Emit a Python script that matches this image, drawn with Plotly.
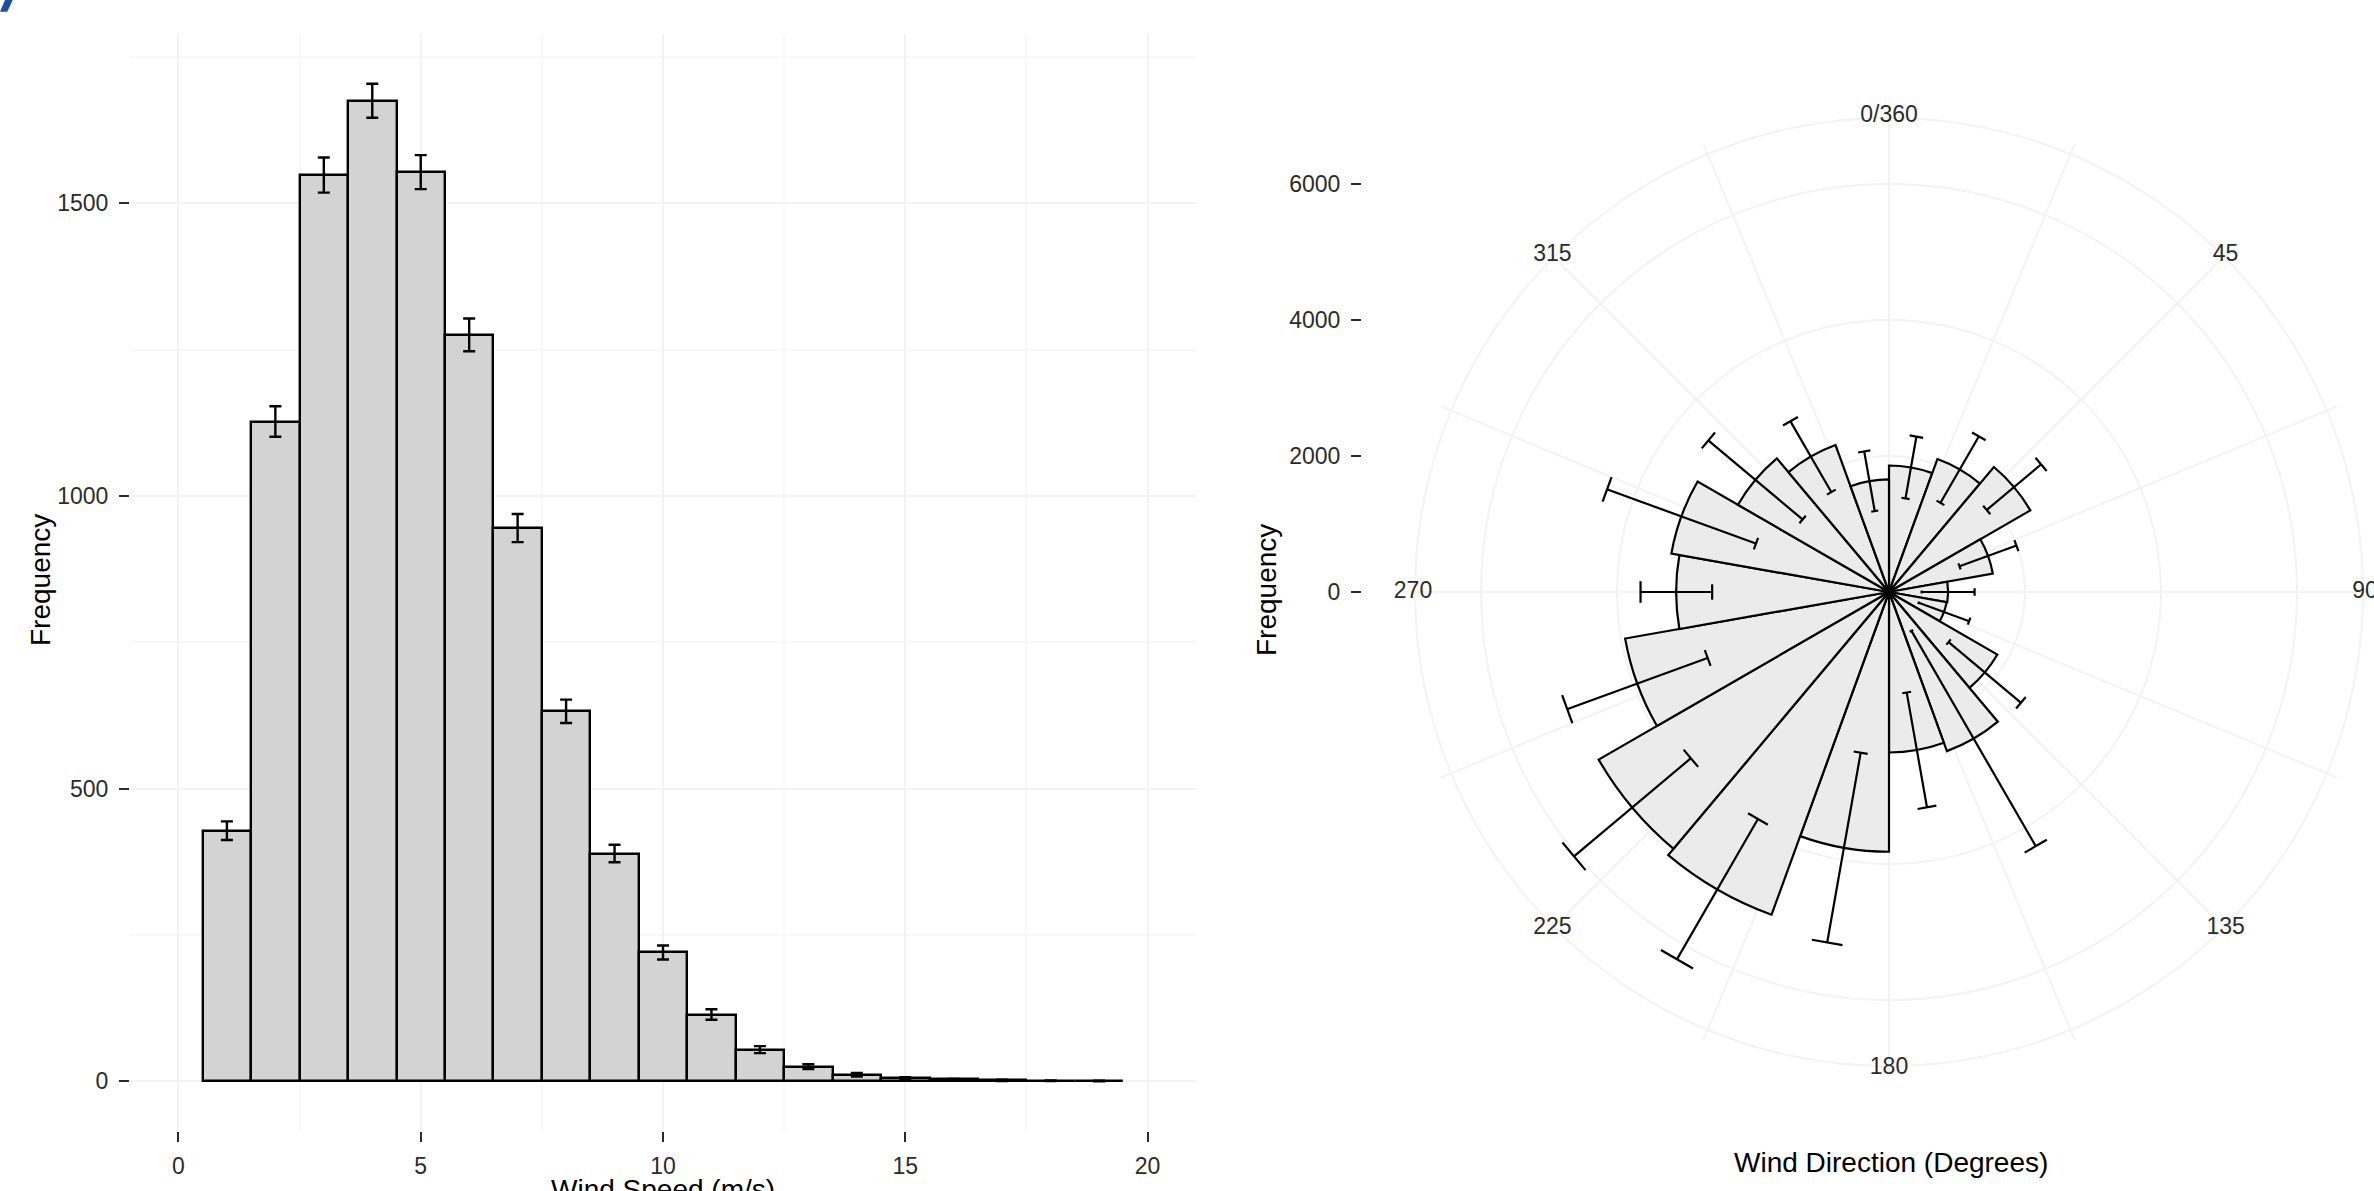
import plotly.graph_objects as go

# ---------------- data ----------------
# Left: wind speed histogram (bin centres, counts, error half-widths)
speed_bins = list(range(1, 20))
speed_freq = [428, 1127, 1548, 1675, 1553, 1275, 945, 632, 389, 220, 114, 54, 25, 11, 5, 3, 1.5, 0.8, 0.4]
speed_err = [16, 26, 30, 29, 29, 28, 24, 20, 15, 12, 9, 6, 4, 3, 2, 1, 1, 0.5, 0.5]

x_ticks = [0, 5, 10, 15, 20]
y_ticks = [0, 500, 1000, 1500]

# Right: wind direction rose (sector centres in degrees, counts, error half-widths)
dir_centers = [10, 30, 50, 70, 90, 110, 130, 150, 170, 190, 210, 230, 250, 270, 290, 310, 330, 350]
dir_freq = [1860, 2080, 2400, 1550, 870, 860, 1840, 2490, 2360, 3820, 5050, 4930, 3940, 3130, 3250, 2565, 2300, 1655]
dir_err = [462, 565, 522, 446, 390, 395, 695, 1830, 858, 1418, 1192, 1123, 1100, 527, 1166, 905, 602, 446]

r_ticks = [0, 2000, 4000, 6000]
angle_ticks = [0, 45, 90, 135, 180, 225, 270, 315]
angle_labels = ["0/360", "45", "90", "135", "180", "225", "270", "315"]

# ---------------- layout constants ----------------
W, H = 2374, 1191
FONT = "Liberation Sans, Arial, sans-serif"
TICK_COL = "#2b2b2b"
GRID = "#f3f3f3"
GRID_MINOR = "#f8f8f8"

R_MAX = 7132        # radial range of the polar panel
R_OUTER = 6970      # outer grid circle
R_LABEL = 7000      # radius of angular labels

fig = go.Figure()

# Histogram bars
fig.add_trace(go.Bar(
    x=speed_bins, y=speed_freq, width=1,
    marker=dict(color="#d3d3d3", line=dict(color="black", width=2.4)),
    error_y=dict(type="data", array=speed_err, color="black", thickness=2.4, width=6),
    xaxis="x", yaxis="y", hoverinfo="x+y",
))

# Wind rose bars
fig.add_trace(go.Barpolar(
    r=dir_freq, theta=dir_centers, width=[20] * len(dir_centers),
    marker=dict(color="#ebebeb", line=dict(color="black", width=2.2)),
    subplot="polar",
))

# Wind rose error bars (radial whisker + caps)
cap = 2.5
er_r, er_t = [], []
for c, v, e in zip(dir_centers, dir_freq, dir_err):
    lo, hi = v - e, v + e
    er_r += [lo, hi, None, lo, lo, None, hi, hi, None]
    er_t += [c, c, None, c - cap, c + cap, None, c - cap, c + cap, None]
fig.add_trace(go.Scatterpolar(
    r=er_r, theta=er_t, mode="lines",
    line=dict(color="black", width=2.2), subplot="polar", hoverinfo="skip",
))

# Outer faint circle
circ_t = [i * 2 for i in range(181)]
fig.add_trace(go.Scatterpolar(
    r=[R_OUTER] * len(circ_t), theta=circ_t, mode="lines",
    line=dict(color=GRID, width=2), subplot="polar", hoverinfo="skip",
))

# Angular labels
fig.add_trace(go.Scatterpolar(
    r=[R_LABEL] * len(angle_ticks), theta=angle_ticks, mode="text",
    text=angle_labels, textfont=dict(size=23, color=TICK_COL, family=FONT),
    textposition="middle center", subplot="polar", hoverinfo="skip", cliponaxis=False,
))

# Dummy trace for the radial "Frequency" axis drawn on the left of the rose
fig.add_trace(go.Scatter(x=[], y=[], xaxis="x2", yaxis="y2", showlegend=False))

pol_y0 = (H - 1077) / H
pol_y1 = (H - 107) / H

fig.update_layout(
    width=W, height=H,
    margin=dict(l=0, r=0, t=0, b=0),
    paper_bgcolor="white", plot_bgcolor="rgba(0,0,0,0)",
    showlegend=False,
    font=dict(family=FONT, color="black"),
    bargap=0,
    xaxis=dict(
        domain=[130 / W, 1196 / W], range=[-1, 21],
        tickvals=x_ticks, ticks="outside", ticklen=10, tickwidth=2, tickcolor=TICK_COL,
        tickfont=dict(size=23, color=TICK_COL), ticklabelstandoff=4,
        showgrid=True, gridcolor=GRID, gridwidth=2,
        minor=dict(tickvals=[2.5, 7.5, 12.5, 17.5], showgrid=True, gridcolor=GRID_MINOR, gridwidth=2),
        zeroline=False, showline=False, fixedrange=True,
    ),
    yaxis=dict(
        domain=[(H - 1131) / H, (H - 34) / H], range=[-85, 1789],
        tickvals=y_ticks, ticks="outside", ticklen=10, tickwidth=2, tickcolor=TICK_COL,
        tickfont=dict(size=23, color=TICK_COL), ticklabelstandoff=6,
        showgrid=True, gridcolor=GRID, gridwidth=2,
        minor=dict(tickvals=[250, 750, 1250, 1750], showgrid=True, gridcolor=GRID_MINOR, gridwidth=2),
        zeroline=False, showline=False, fixedrange=True,
    ),
    xaxis2=dict(domain=[1362 / W, 1372 / W], visible=False, range=[0, 1], fixedrange=True),
    yaxis2=dict(
        anchor="x2", domain=[pol_y0, pol_y1], range=[-R_MAX, R_MAX],
        tickvals=r_ticks, ticks="outside", ticklen=10, tickwidth=2, tickcolor=TICK_COL,
        tickfont=dict(size=23, color=TICK_COL), ticklabelstandoff=6,
        showgrid=False, zeroline=False, showline=False, fixedrange=True,
    ),
    polar=dict(
        domain=dict(x=[1404 / W, 1.0], y=[pol_y0, pol_y1]),
        bgcolor="white",
        angularaxis=dict(
            rotation=90, direction="clockwise",
            tickvals=[i * 22.5 for i in range(16)], showticklabels=False, ticks="",
            showgrid=True, gridcolor=GRID, gridwidth=2, showline=False,
        ),
        radialaxis=dict(
            range=[0, R_MAX], tickvals=r_ticks[1:], showticklabels=False, ticks="",
            showgrid=True, gridcolor=GRID, gridwidth=2, showline=False,
        ),
    ),
    annotations=[
        dict(text="Frequency", x=40 / W, y=(H - 580) / H, xref="paper", yref="paper",
             textangle=-90, showarrow=False, xanchor="center", yanchor="middle",
             font=dict(size=28, color="black")),
        dict(text="Wind Speed (m/s)", x=663 / W, y=(H - 1172) / H, xref="paper", yref="paper",
             showarrow=False, xanchor="center", yanchor="top",
             font=dict(size=28, color="black")),
        dict(text="Frequency", x=1266 / W, y=(H - 590) / H, xref="paper", yref="paper",
             textangle=-90, showarrow=False, xanchor="center", yanchor="middle",
             font=dict(size=28, color="black")),
        dict(text="Wind Direction (Degrees)", x=1891 / W, y=(H - 1162) / H, xref="paper", yref="paper",
             showarrow=False, xanchor="center", yanchor="middle",
             font=dict(size=28, color="black")),
    ],
    shapes=[
        dict(type="path", xref="paper", yref="paper",
             path="M 0,0.9902 L 0.00308,0.9902 L 0.00535,1 L 0.0021,1 Z",
             fillcolor="#1c4f9f", line=dict(width=0)),
    ],
)

fig.write_html(
    "out.html",
    config={"displayModeBar": False},
    post_script="document.body.style.margin='0';document.body.style.overflow='hidden';"
                "document.documentElement.style.overflow='hidden';",
)
